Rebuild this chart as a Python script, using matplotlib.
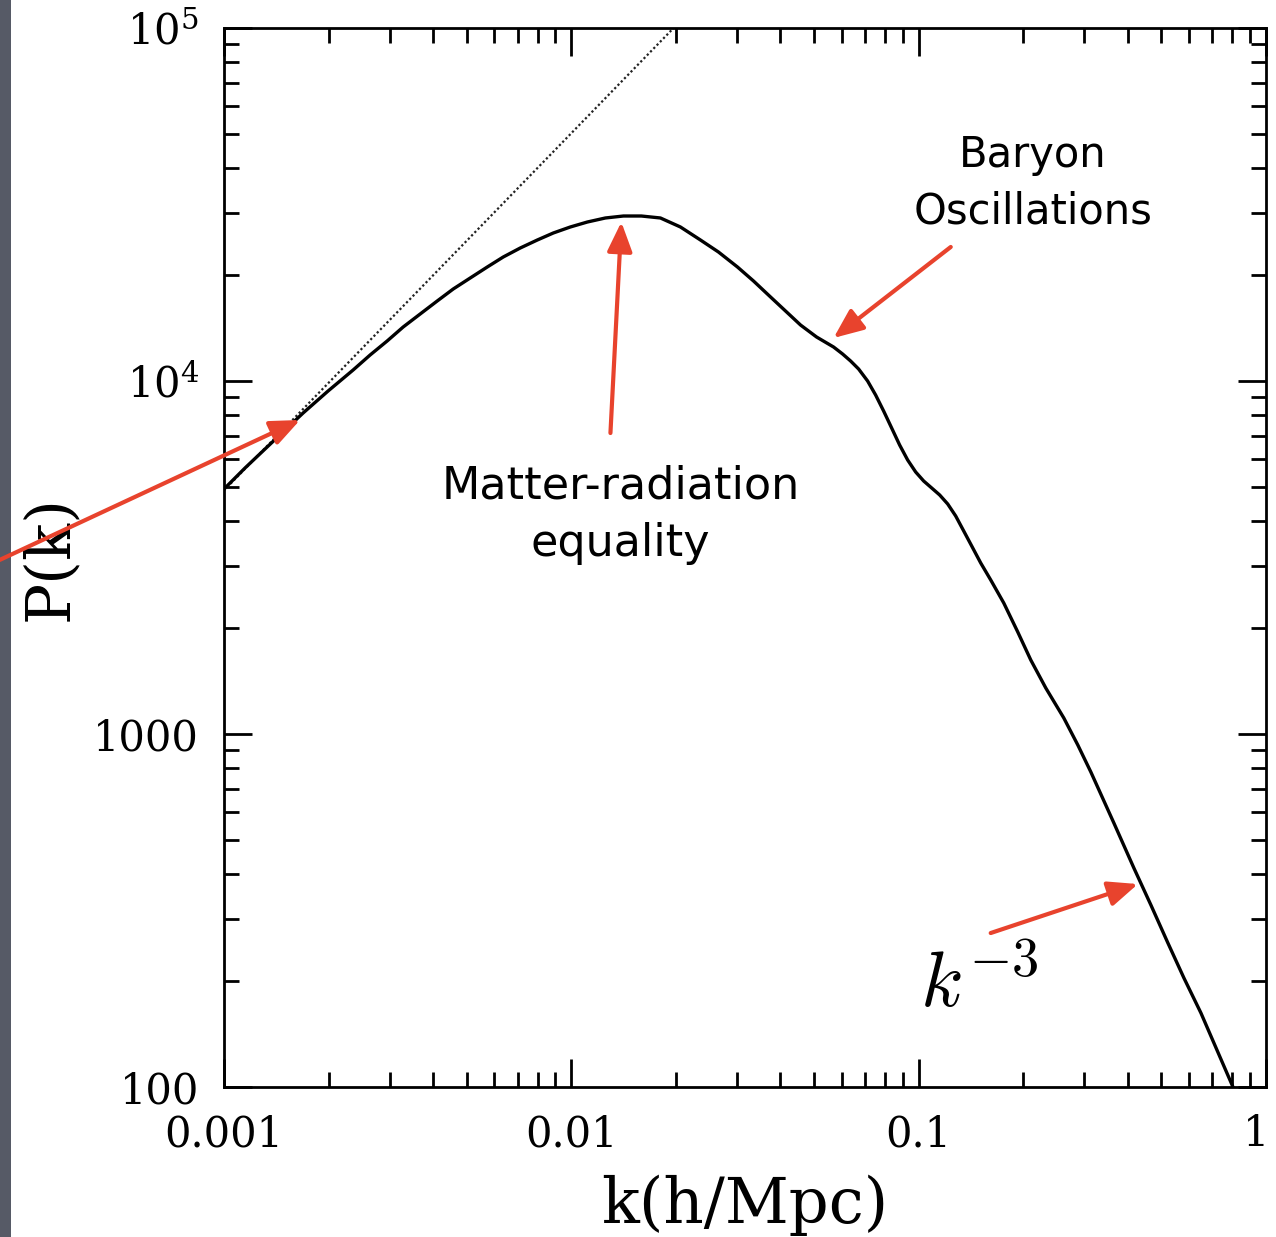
import matplotlib
matplotlib.use("Agg")
import numpy as np
import matplotlib.pyplot as plt
from matplotlib.patches import Rectangle
from matplotlib.transforms import ScaledTranslation

# ---- data (log10 values) ----
log10_k = [-2.9942, -2.9395, -2.8818, -2.8271, -2.7723, -2.7003, -2.6282, -2.5793,
           -2.5303, -2.4841, -2.4352, -2.3862, -2.3401, -2.2911, -2.2421, -2.1960,
           -2.1470, -2.0980, -2.0519, -2.0029, -1.9539, -1.9020, -1.8501, -1.7983,
           -1.7435, -1.6859, -1.6282, -1.5764, -1.5216, -1.4755, -1.4265, -1.3833,
           -1.3401, -1.2939, -1.2450, -1.2190, -1.1960, -1.1729, -1.1470, -1.1239,
           -1.1009, -1.0778, -1.0548, -1.0317, -1.0086, -0.9856, -0.9625, -0.9395,
           -0.9164, -0.8934, -0.8703, -0.8473, -0.8213, -0.7925, -0.7550, -0.7147,
           -0.6772, -0.6340, -0.5821, -0.5418, -0.5043, -0.4380, -0.3804, -0.3314,
           -0.2824, -0.2363, -0.1873, -0.1412, -0.0951]
log10_P = [3.6997, 3.7535, 3.8074, 3.8584, 3.9093, 3.9717, 4.0312, 4.0737,
           4.1133, 4.1530, 4.1898, 4.2266, 4.2606, 4.2918, 4.3229, 4.3513,
           4.3768, 4.3994, 4.4193, 4.4363, 4.4504, 4.4618, 4.4674, 4.4674,
           4.4618, 4.4363, 4.3994, 4.3654, 4.3229, 4.2833, 4.2380, 4.1983,
           4.1586, 4.1246, 4.0963, 4.0765, 4.0567, 4.0340, 4.0000, 3.9603,
           3.9150, 3.8669, 3.8187, 3.7762, 3.7422, 3.7167, 3.6969, 3.6771,
           3.6516, 3.6176, 3.5751, 3.5326, 3.4844, 3.4363, 3.3711, 3.2890,
           3.2096, 3.1303, 3.0453, 2.9688, 2.8924, 2.7479, 2.6204, 2.5156,
           2.4079, 2.3088, 2.2096, 2.1048, 2.0000]

# primordial power-law (dotted) line
prim_k = [0.001, 0.0197]
prim_P = [4900, 100000]

x_ticks = [0.001, 0.01, 0.1, 1]
x_ticklabels = ["0.001", "0.01", "0.1", "1"]
y_ticks = [100, 1000, 1e4, 1e5]
y_ticklabels = ["100", "1000", r"$10^4$", r"$10^5$"]

RED = "#e8432d"

plt.rcParams["mathtext.fontset"] = "dejavuserif"

fig = plt.figure(figsize=(12.76, 12.37), dpi=100)
fig.patch.set_facecolor("white")
fig.add_artist(Rectangle((0, 0), 11 / 1276, 1, transform=fig.transFigure,
                         facecolor="#565a66", edgecolor="none", zorder=0))

ax = fig.add_axes([224 / 1276, 150 / 1237, 1042 / 1276, 1059 / 1237])
ax.set_xscale("log")
ax.set_yscale("log")
ax.set_xlim(0.001, 1)
ax.set_ylim(100, 1e5)

k_vals = np.power(10.0, log10_k)
P_vals = np.power(10.0, log10_P)

ax.plot(prim_k, prim_P, color="#222222", lw=1.6, ls=(0, (1, 1.1)), zorder=2)
ax.plot(k_vals, P_vals, color="black", lw=2.4, zorder=3,
        solid_joinstyle="round", solid_capstyle="round")

for s in ax.spines.values():
    s.set_linewidth(2.0)

ax.set_xticks(x_ticks)
ax.set_xticklabels(x_ticklabels, fontfamily="DejaVu Serif", fontsize=30)
ax.set_yticks(y_ticks)
ax.set_yticklabels(y_ticklabels, fontfamily="DejaVu Serif", fontsize=30)
ax.tick_params(which="both", direction="in", top=True, right=True)
ax.tick_params(which="major", length=20, width=2.0)
ax.tick_params(which="minor", length=10.5, width=2.0)
ax.tick_params(axis="y", which="major", pad=18)
ax.tick_params(axis="x", which="major", pad=19)

# keep the last x tick label inside the figure
last = ax.get_xticklabels()[-1]
last.set_transform(last.get_transform() + ScaledTranslation(-10 / 100, 0, fig.dpi_scale_trans))

ax.set_xlabel("k(h/Mpc)", fontfamily="DejaVu Serif", fontsize=45, va="center")
ax.xaxis.set_label_coords(0.5, (1087 - 1205) / 1059)
ax.set_ylabel("P(k)", fontfamily="DejaVu Serif", fontsize=44, va="center")
ax.yaxis.set_label_coords((50 - 224) / 1042, (1087 - 558) / 1059)

arrow_kw = dict(arrowstyle="-|>,head_length=0.4,head_width=0.17",
                color=RED, lw=3.0, mutation_scale=45, shrinkA=0, shrinkB=0)

# arrow from outside the axes to the large-scale power law
ax.annotate("", xy=(0.001656, 7755), xytext=(0.000226, 3112),
            arrowprops=arrow_kw, annotation_clip=False)
# matter-radiation equality
ax.annotate("", xy=(0.01393, 28210), xytext=(0.01296, 7122), arrowprops=arrow_kw)
# baryon oscillations
ax.annotate("", xy=(0.05689, 13240), xytext=(0.1237, 23970), arrowprops=arrow_kw)
# k^-3
ax.annotate("", xy=(0.4277, 375.8), xytext=(0.1612, 273), arrowprops=arrow_kw)

ax.text(0.2131, 36380, "Baryon\nOscillations", ha="center", va="center",
        fontfamily="DejaVu Sans", fontsize=30, linespacing=1.45)
ax.text(0.01384, 4173, "Matter-radiation\nequality", ha="center", va="center",
        fontfamily="DejaVu Sans", fontsize=32, linespacing=1.42)
ax.text(0.1499, 194.5, r"$k^{-3}$", ha="center", va="center",
        fontsize=56, math_fontfamily="cm")

fig.savefig("out.png", dpi=100, facecolor="white")
